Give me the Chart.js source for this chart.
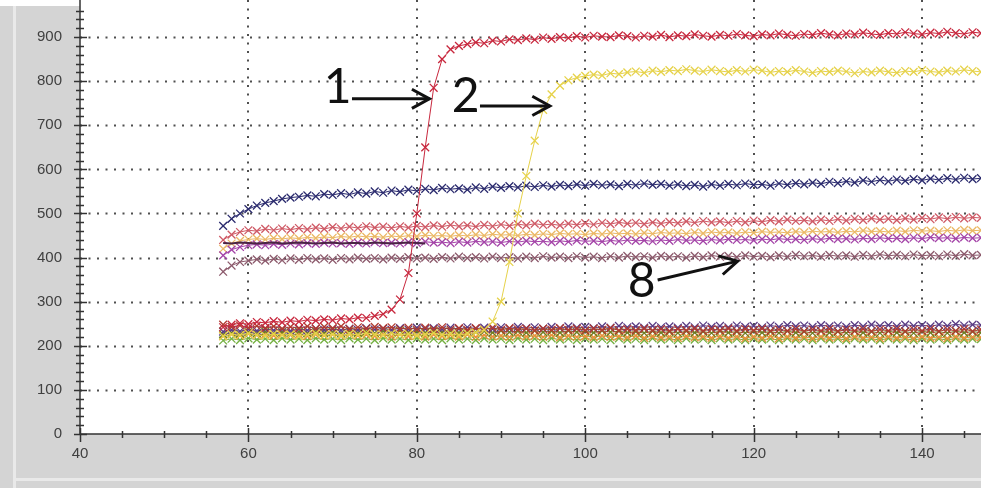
<!DOCTYPE html>
<html>
<head>
<meta charset="utf-8">
<script src="https://cdn.jsdelivr.net/npm/chart.js@4/dist/chart.umd.min.js"></script>
<style>
  html, body { margin: 0; padding: 0; background: #d4d4d4; }
  #c { display: block; }
</style>
</head>
<body>
<canvas id="c" width="981" height="488"></canvas>
<script>
// --- data ---
const xTicks = [40, 60, 80, 100, 120, 140];
const yTicks = [0, 100, 200, 300, 400, 500, 600, 700, 800, 900];

const xValues = [
  57, 58, 59, 60, 61, 62, 63, 64, 65, 66,
  67, 68, 69, 70, 71, 72, 73, 74, 75, 76,
  77, 78, 79, 80, 81, 82, 83, 84, 85, 86,
  87, 88, 89, 90, 91, 92, 93, 94, 95, 96,
  97, 98, 99, 100, 101, 102, 103, 104, 105, 106,
  107, 108, 109, 110, 111, 112, 113, 114, 115, 116,
  117, 118, 119, 120, 121, 122, 123, 124, 125, 126,
  127, 128, 129, 130, 131, 132, 133, 134, 135, 136,
  137, 138, 139, 140, 141, 142, 143, 144, 145, 146,
  147
];

// curve 1 (red)
const curve1 = [
  242, 248, 251, 249, 254, 252, 256, 253, 257, 255,
  259, 257, 260, 258, 262, 260, 264, 263, 268, 272,
  282, 305, 365, 500, 650, 785, 850, 872, 880, 884,
  888, 886, 892, 890, 895, 893, 897, 894, 899, 896,
  900, 898, 902, 899, 903, 901, 900, 904, 902, 899,
  903, 901, 905, 900, 904, 902, 906, 903, 901, 905,
  903, 907, 904, 902, 906, 904, 908, 905, 903, 907,
  905, 909, 906, 904, 908, 906, 910, 907, 905, 909,
  907, 911, 908, 906, 910, 908, 912, 909, 907, 911,
  909
];

// curve 2 (yellow)
const curve2 = [
  222, 226, 224, 228, 225, 223, 227, 224, 226, 222,
  225, 228, 224, 226, 223, 227, 225, 229, 226, 224,
  228, 225, 227, 223, 226, 229, 225, 227, 224, 228,
  230, 236, 255, 300, 390, 500, 585, 665, 735, 770,
  790, 802, 808, 812, 815, 813, 818, 816, 820, 822,
  819, 824, 821, 825, 823, 827, 824, 822, 826, 823,
  821, 825, 822, 826, 824, 820, 823, 821, 825, 822,
  819, 823, 821, 824, 822, 818, 822, 820, 824, 821,
  819, 823, 821, 825, 822, 820, 824, 822, 826, 823,
  821
];

const navyCurve = [
  472, 488, 500, 510, 518, 524, 528, 533, 536, 538,
  541, 539, 544, 542, 546, 543, 548, 545, 550, 547,
  552, 549, 554, 551, 556, 553, 558, 555, 557, 554,
  559, 556, 561, 558, 562, 559, 563, 560, 564, 561,
  565, 562, 566, 563, 567, 564, 566, 562, 567, 564,
  568, 565, 567, 563, 566, 562, 565, 561, 566, 563,
  567, 564, 568, 565, 566, 563, 568, 565, 569, 566,
  570, 567, 572, 569, 573, 570, 575, 572, 576, 573,
  577, 574, 578, 575, 579, 576, 580, 577, 581, 578,
  580
];

const salmonCurve = [
  440, 452, 458, 462, 460, 465, 462, 466, 463, 467,
  464, 468, 465, 469, 466, 470, 467, 471, 468, 470,
  467, 471, 468, 472, 469, 473, 470, 474, 471, 473,
  470, 474, 471, 475, 472, 476, 473, 477, 474, 476,
  473, 477, 474, 478, 475, 479, 476, 480, 477, 479,
  476, 480, 477, 481, 478, 482, 479, 483, 480, 482,
  479, 483, 480, 484, 481, 485, 482, 486, 483, 485,
  482, 486, 483, 487, 484, 488, 485, 489, 486, 488,
  485, 489, 486, 490, 487, 491, 488, 492, 489, 491,
  490
];

const orangeCurve = [
  420, 432, 438, 441, 443, 441, 444, 442, 445, 443,
  446, 444, 447, 445, 448, 446, 449, 447, 448, 446,
  449, 447, 450, 448, 451, 449, 450, 448, 451, 449,
  452, 450, 453, 451, 452, 450, 453, 451, 454, 452,
  455, 453, 454, 452, 455, 453, 456, 454, 455, 453,
  456, 454, 457, 455, 456, 454, 457, 455, 458, 456,
  457, 455, 458, 456, 459, 457, 458, 456, 459, 457,
  460, 458, 459, 457, 460, 458, 461, 459, 460, 458,
  461, 459, 462, 460, 461, 459, 462, 460, 463, 461,
  462
];

const magentaCurve = [
  405, 418, 424, 428, 430, 428, 431, 429, 432, 430,
  433, 431, 434, 432, 433, 431, 434, 432, 435, 433,
  434, 432, 435, 433, 436, 434, 435, 433, 436, 434,
  437, 435, 436, 434, 437, 435, 438, 436, 437, 435,
  438, 436, 439, 437, 438, 436, 439, 437, 440, 438,
  439, 437, 440, 438, 441, 439, 440, 438, 441, 439,
  442, 440, 441, 439, 442, 440, 443, 441, 442, 440,
  443, 441, 444, 442, 443, 441, 444, 442, 445, 443,
  444, 442, 445, 443, 446, 444, 445, 443, 446, 444,
  445
];

// short dark trace, x 57..81 only
const darkTrace = [
  433, 432, 434, 433, 432, 433, 434, 432, 433, 434,
  433, 432, 433, 434, 432, 433, 433, 432, 434, 433,
  432, 433, 434, 433, 432
];

// curve 8
const curve8 = [
  368, 382, 390, 393, 396, 393, 397, 394, 398, 395,
  399, 396, 398, 395, 399, 396, 400, 397, 399, 396,
  400, 397, 401, 398, 400, 397, 401, 398, 402, 399,
  401, 398, 402, 399, 401, 398, 402, 399, 403, 400,
  402, 399, 403, 400, 402, 399, 403, 400, 404, 401,
  403, 400, 404, 401, 403, 400, 404, 401, 405, 402,
  404, 401, 405, 402, 404, 401, 405, 402, 406, 403,
  405, 402, 406, 403, 405, 402, 406, 403, 407, 404,
  406, 403, 407, 404, 406, 403, 407, 404, 408, 405,
  406
];

const baseRed = [
  248, 243, 246, 241, 245, 240, 244, 239, 243, 240,
  244, 239, 243, 240, 244, 238, 242, 239, 243, 240,
  242, 238, 241, 237, 241, 238, 242, 237, 240, 236,
  240, 237, 241, 236, 240, 237, 239, 235, 239, 236,
  240, 236, 239, 235, 239, 236, 240, 235, 238, 235,
  239, 235, 238, 234, 238, 235, 239, 234, 238, 235,
  239, 234, 238, 235, 239, 234, 237, 234, 238, 233,
  237, 234, 238, 233, 237, 234, 238, 233, 237, 234,
  238, 233, 237, 234, 238, 233, 237, 234, 238, 233,
  237
];

const basePurple = [
  232, 236, 233, 237, 234, 238, 235, 237, 234, 238,
  235, 239, 236, 238, 235, 239, 236, 240, 237, 239,
  236, 240, 237, 241, 238, 240, 237, 241, 238, 242,
  239, 241, 238, 242, 239, 243, 240, 242, 239, 243,
  240, 244, 241, 243, 240, 244, 241, 245, 242, 244,
  241, 245, 242, 244, 241, 245, 242, 246, 243, 245,
  242, 246, 243, 245, 242, 246, 243, 247, 244, 246,
  243, 247, 244, 246, 243, 247, 244, 248, 245, 247,
  244, 248, 245, 247, 244, 248, 245, 249, 246, 248,
  247
];

const baseOlive = [
  226, 230, 227, 231, 228, 232, 229, 231, 228, 232,
  229, 233, 230, 232, 229, 233, 230, 232, 229, 233,
  230, 234, 231, 233, 230, 234, 231, 233, 230, 234,
  231, 233, 230, 234, 231, 233, 230, 234, 231, 233,
  230, 234, 231, 233, 230, 234, 231, 233, 230, 232,
  229, 233, 230, 232, 229, 233, 230, 232, 229, 233,
  230, 232, 229, 233, 230, 232, 229, 233, 230, 232,
  229, 233, 230, 232, 229, 233, 230, 232, 229, 233,
  230, 232, 229, 233, 230, 232, 229, 233, 230, 232,
  230
];

const baseOrange = [
  222, 226, 223, 227, 224, 226, 223, 227, 224, 226,
  222, 226, 223, 225, 222, 226, 223, 225, 222, 226,
  221, 225, 222, 224, 221, 225, 222, 224, 221, 225,
  220, 224, 221, 223, 220, 224, 221, 223, 220, 224,
  219, 223, 220, 222, 219, 223, 220, 222, 219, 223,
  218, 222, 219, 221, 218, 222, 219, 221, 218, 222,
  218, 221, 217, 221, 218, 222, 217, 221, 218, 220,
  217, 221, 218, 220, 217, 221, 218, 220, 217, 221,
  218, 220, 217, 221, 218, 220, 217, 221, 218, 220,
  219
];

const baseGreen = [
  212, 216, 213, 217, 214, 216, 213, 217, 214, 216,
  213, 217, 214, 216, 213, 217, 214, 216, 213, 217,
  214, 216, 213, 217, 214, 216, 213, 217, 214, 216,
  213, 217, 214, 216, 213, 217, 214, 216, 213, 217,
  214, 216, 213, 217, 214, 216, 213, 217, 214, 216,
  213, 217, 214, 216, 213, 217, 214, 216, 213, 217,
  214, 216, 213, 217, 214, 216, 213, 217, 214, 216,
  213, 217, 214, 216, 213, 217, 214, 216, 213, 217,
  214, 216, 213, 217, 214, 216, 213, 217, 214, 216,
  215
];

// text labels with arrows (data coordinates)
const callouts = [
  { text: '1', tx: 70.6, ty: 750, from: [72.3, 760], to: [81.5, 760] },
  { text: '2', tx: 85.8, ty: 730, from: [87.5, 744], to: [95.8, 744] },
  { text: '8', tx: 106.7, ty: 311, from: [108.6, 349], to: [118.1, 392] }
];

// --- styles ---
const FRAME = '#d4d4d4';
const TEXT = '#404040';

function toPoints(values) {
  return values.map((v, i) => ({ x: xValues[i], y: v }));
}

function crossSeries(label, values, color) {
  return {
    label,
    data: toPoints(values),
    borderColor: color,
    backgroundColor: color,
    borderWidth: 1,
    pointStyle: 'crossRot',
    pointRadius: 5.5,
    pointBorderWidth: 1.3,
    tension: 0
  };
}

const datasets = [
  crossSeries('1', curve1, '#c8283e'),
  crossSeries('2', curve2, '#e6d24a'),
  crossSeries('navy', navyCurve, '#2b2b6e'),
  {
    label: 'dark',
    data: toPoints(darkTrace),
    borderColor: '#4a2444',
    borderWidth: 2,
    pointRadius: 0
  },
  crossSeries('8', curve8, '#8c5a6c'),
  crossSeries('magenta', magentaCurve, '#a444a8'),
  crossSeries('orange', orangeCurve, '#ebb865'),
  crossSeries('salmon', salmonCurve, '#cf5a66'),
  crossSeries('baseRed', baseRed, '#b03a30'),
  crossSeries('basePurple', basePurple, '#5a3c84'),
  crossSeries('baseOlive', baseOlive, '#6e7a22'),
  crossSeries('baseOrange', baseOrange, '#e8903a'),
  crossSeries('baseGreen', baseGreen, '#74b040')
];

// gray window frame + white plot area
const framePlugin = {
  id: 'frame',
  beforeDraw(chart) {
    const { ctx, chartArea: a, width, height } = chart;
    ctx.save();
    ctx.fillStyle = FRAME;
    ctx.fillRect(0, 0, width, height);
    ctx.fillStyle = '#e9e9e9';
    ctx.fillRect(13, 6, 3, height - 6);
    ctx.fillRect(13, 478, width - 13, 3);
    ctx.fillStyle = '#ffffff';
    ctx.fillRect(0, 0, width, 6);
    ctx.fillRect(a.left, 0, width - a.left, a.bottom);
    ctx.restore();
  }
};

// dotted grid, axis lines and tick marks
const axesPlugin = {
  id: 'axesLook',
  beforeDatasetsDraw(chart) {
    const { ctx, chartArea: a, scales: { x, y } } = chart;
    ctx.save();
    ctx.strokeStyle = 'rgba(20,20,20,0.75)';
    ctx.lineWidth = 2;
    ctx.setLineDash([2, 6.5]);
    yTicks.forEach(v => {
      if (v === y.min) return;
      const py = Math.round(y.getPixelForValue(v)) + 0.5;
      ctx.beginPath(); ctx.moveTo(a.left, py); ctx.lineTo(a.right, py); ctx.stroke();
    });
    xTicks.forEach(v => {
      if (v === x.min) return;
      const px = Math.round(x.getPixelForValue(v));
      ctx.beginPath(); ctx.moveTo(px, 0); ctx.lineTo(px, a.bottom); ctx.stroke();
    });
    ctx.setLineDash([]);

    // axis lines
    ctx.strokeStyle = '#333';
    ctx.lineWidth = 1.5;
    ctx.beginPath();
    ctx.moveTo(a.left, 0); ctx.lineTo(a.left, a.bottom); ctx.lineTo(a.right, a.bottom);
    ctx.stroke();

    // tick marks
    ctx.lineWidth = 1.5;
    for (let v = y.min; v <= y.max; v += 20) {
      const py = Math.round(y.getPixelForValue(v)) + 0.5;
      const major = v % 100 === 0;
      ctx.beginPath();
      ctx.moveTo(a.left - (major ? 6 : 4), py);
      ctx.lineTo(a.left + (major ? 7 : 4), py);
      ctx.stroke();
    }
    for (let v = x.min; v <= x.max; v += 5) {
      const px = Math.round(x.getPixelForValue(v)) + 0.5;
      const major = v % 20 === 0;
      ctx.beginPath();
      ctx.moveTo(px, a.bottom - (major ? 6 : 3));
      ctx.lineTo(px, a.bottom + (major ? 8 : 4));
      ctx.stroke();
    }
    ctx.restore();
  }
};

function drawArrow(ctx, x1, y1, x2, y2) {
  ctx.beginPath(); ctx.moveTo(x1, y1); ctx.lineTo(x2, y2); ctx.stroke();
  const ang = Math.atan2(y2 - y1, x2 - x1);
  const h = 20, spread = 0.5;
  ctx.beginPath();
  ctx.moveTo(x2 - h * Math.cos(ang - spread), y2 - h * Math.sin(ang - spread));
  ctx.lineTo(x2, y2);
  ctx.lineTo(x2 - h * Math.cos(ang + spread), y2 - h * Math.sin(ang + spread));
  ctx.stroke();
}

const calloutPlugin = {
  id: 'callouts',
  afterDraw(chart) {
    const { ctx, scales: { x, y } } = chart;
    ctx.save();
    ctx.fillStyle = '#111';
    ctx.strokeStyle = '#111';
    ctx.lineWidth = 3;
    ctx.lineCap = 'butt';
    ctx.lineJoin = 'miter';
    ctx.font = '48px Lato, "Open Sans", "Liberation Sans", sans-serif';
    ctx.textAlign = 'center';
    ctx.textBaseline = 'alphabetic';
    callouts.forEach(c => {
      ctx.fillText(c.text, x.getPixelForValue(c.tx), y.getPixelForValue(c.ty));
      drawArrow(ctx,
        x.getPixelForValue(c.from[0]), y.getPixelForValue(c.from[1]),
        x.getPixelForValue(c.to[0]), y.getPixelForValue(c.to[1]));
    });
    ctx.restore();
  }
};

const tickFont = { family: '"Liberation Sans", Arial, sans-serif', size: 15 };

new Chart(document.getElementById('c'), {
  type: 'line',
  data: { datasets },
  options: {
    responsive: false,
    animation: false,
    devicePixelRatio: 1,
    layout: { autoPadding: false, padding: { top: 4, right: 0, left: 0, bottom: 0 } },
    plugins: { legend: { display: false }, tooltip: { enabled: false } },
    scales: {
      x: {
        type: 'linear',
        min: 40,
        max: 147,
        afterBuildTicks: s => { s.ticks = xTicks.map(v => ({ value: v })); },
        afterFit: s => { s.height = 54; s.paddingLeft = 0; s.paddingRight = 0; },
        grid: { display: false, drawTicks: false },
        border: { display: false },
        ticks: { autoSkip: false, maxRotation: 0, padding: 11, color: TEXT, font: tickFont }
      },
      y: {
        type: 'linear',
        min: 0,
        max: 975,
        afterBuildTicks: s => { s.ticks = yTicks.map(v => ({ value: v })); },
        afterFit: s => { s.width = 80; s.paddingTop = 0; s.paddingBottom = 0; },
        grid: { display: false, drawTicks: false },
        border: { display: false },
        ticks: { autoSkip: false, padding: 18, color: TEXT, font: tickFont }
      }
    }
  },
  plugins: [framePlugin, axesPlugin, calloutPlugin]
});
</script>
</body>
</html>
